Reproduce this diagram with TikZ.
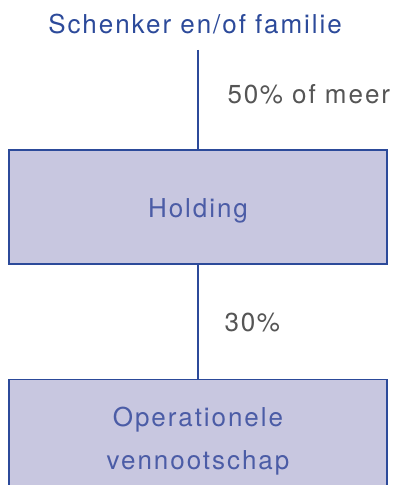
\documentclass[tikz,border=0pt]{standalone}
\usepackage{fontspec}
\setmainfont{TeX Gyre Heros}[LetterSpace=7.5]
\definecolor{ownerblue}{HTML}{2C4A9A}
\definecolor{boxfill}{HTML}{C8C7E0}
\definecolor{boxtext}{HTML}{4B5CA6}
\definecolor{pctgray}{HTML}{555555}
\newcommand{\pct}{\kern1.5pt\%}

\begin{document}
\begin{tikzpicture}[x=1pt,y=1pt,
  every node/.style={font=\fontsize{26}{43}\selectfont},
  entity/.style={draw=ownerblue,line width=1.1pt,fill=boxfill,text=boxtext,
    minimum width=378pt,minimum height=114pt,inner sep=0pt,align=center},
  share/.style={text=pctgray,inner sep=0pt,anchor=west},
  link/.style={draw=ownerblue,line width=1.1pt}]
\clip (0,0) rectangle (398,485);

\node [anchor=base,text=ownerblue] (owner) at (195,451) {Schenker en/of familie};
\coordinate (ownerfoot) at (198,435);

\node [entity,text height=24pt,text depth=2pt] (holding) at (198,278) {Holding};
\node [entity,anchor=north,minimum height=124pt] (operational) at (198,106)
  {Operationele\\vennootschap};

\draw [link] (ownerfoot) -- (holding.north)
  node [share,midway,xshift=29pt,yshift=5pt] {50\pct{} of meer};
\draw [link] (holding.south) -- (operational.north)
  node [share,midway,xshift=26pt,yshift=-1pt] {30\pct};

\end{tikzpicture}
\end{document}
